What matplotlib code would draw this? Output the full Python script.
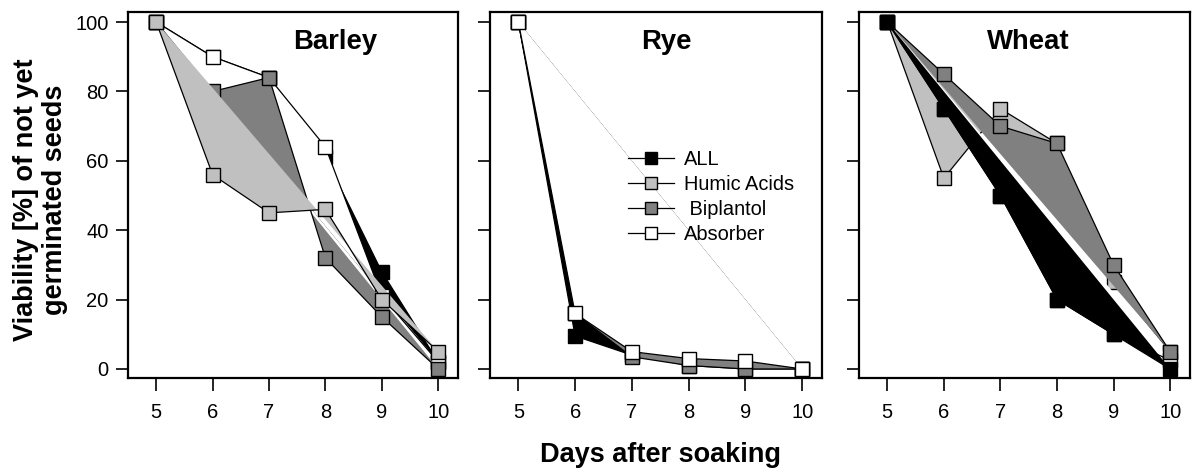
import matplotlib
matplotlib.use('Agg')
import matplotlib.pyplot as plt
from matplotlib.lines import Line2D

plt.rcParams['font.family'] = ['Liberation Sans', 'DejaVu Sans']

days = [5, 6, 7, 8, 9, 10]
crops = ['Barley', 'Rye', 'Wheat']
treatments = ['ALL', 'Humic Acids', ' Biplantol', 'Absorber']

barley_all = [100, 90, 84, 61, 28, 2]
barley_humic = [100, 56, 45, 46, 20, 5]
barley_biplantol = [100, 80, 84, 32, 15, 0]
barley_absorber = [100, 90, 84, 64, 21, 2]

rye_all = [100, 9.5, 4, 1, 0, 0]
rye_humic = [100, 16, 5, 3, 2, 0]
rye_biplantol = [100, 16, 3.5, 1, 0, 0]
rye_absorber = [100, 16, 5, 3, 2.3, 0]

wheat_all = [100, 75, 50, 20, 10, 0]
wheat_humic = [100, 55, 75, 65, 25, 5]
wheat_biplantol = [100, 85, 70, 65, 30, 5]
wheat_absorber = [100, 75, 50, 20, 10, 2.5]

data = {
    'Barley': [barley_all, barley_humic, barley_biplantol, barley_absorber],
    'Rye': [rye_all, rye_humic, rye_biplantol, rye_absorber],
    'Wheat': [wheat_all, wheat_humic, wheat_biplantol, wheat_absorber],
}

colors = ['black', '#c0c0c0', '#808080', 'white']
draw_order = {'Barley': [0, 3, 2, 1], 'Rye': [0, 1, 2, 3], 'Wheat': [1, 3, 2, 0]}

W, H = 1196, 470
fig = plt.figure(figsize=(W / 100, H / 100), dpi=100)

boxes = [(128, 458), (490, 822), (859, 1190)]
top_px, bot_px = 12, 378
title_x = [0.627, 0.53, 0.51]

for i, crop in enumerate(crops):
    l, r = boxes[i]
    ax = fig.add_axes([l / W, (H - bot_px) / H, (r - l) / W, (bot_px - top_px) / H])
    series = data[crop]
    z = 2
    for k in draw_order[crop]:
        ax.fill(days, series[k], facecolor=colors[k], edgecolor='none', zorder=z)
        ax.plot(days, series[k], color='black', lw=0.9, marker='s', ms=10,
                mfc=colors[k], mec='black', mew=1.0, zorder=z + 0.5)
        z += 1
    ax.set_xlim(4.5, 10.35)
    ax.set_ylim(-2.6, 102.9)
    ax.set_xticks(days)
    ax.set_yticks([0, 20, 40, 60, 80, 100])
    ax.tick_params(axis='x', direction='out', length=9, width=1.2, labelsize=14.5, pad=9)
    ax.tick_params(axis='y', direction='out', length=9, width=1.2, labelsize=14.5, pad=5)
    if i > 0:
        ax.tick_params(axis='y', labelleft=False)
    for sp in ax.spines.values():
        sp.set_linewidth(1.6)
    ax.text(title_x[i], 0.90, crop, transform=ax.transAxes, ha='center', va='baseline',
            fontsize=19.8, fontweight='bold')
    if crop == 'Rye':
        handles = [Line2D([0], [0], color='black', lw=0.9, marker='s', ms=9,
                          mfc=colors[k], mec='black', mew=1.0) for k in range(4)]
        ax.legend(handles, treatments, loc='upper left', bbox_to_anchor=(0.415, 0.622),
                  frameon=False, fontsize=14.4, handlelength=2.3, handletextpad=0.5,
                  labelspacing=0.3, borderpad=0, borderaxespad=0)

fig.text(661 / W, 1 - 455 / H, 'Days after soaking', ha='center', va='center',
         fontsize=19.5, fontweight='bold')
fig.text(41 / W, 1 - 200 / H, 'Viability [%] of not yet\ngerminated seeds', ha='center',
         va='center', rotation=90, fontsize=19.5, fontweight='bold', multialignment='center',
         linespacing=1.15)

fig.savefig('out.png', dpi=100)
